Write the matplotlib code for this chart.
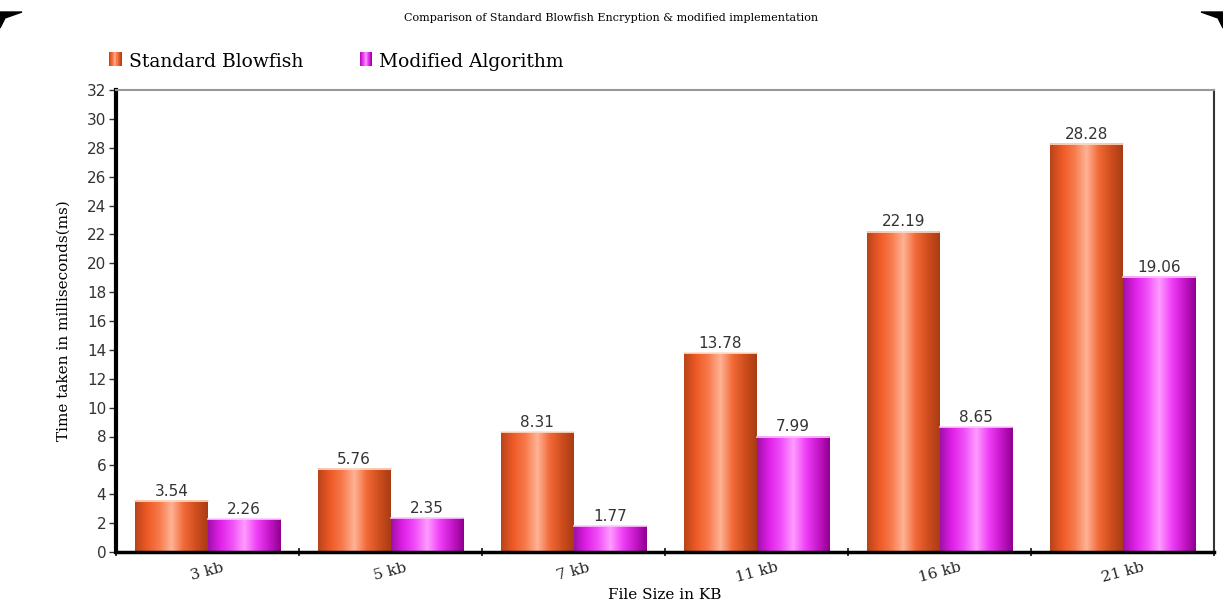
import numpy as np
import matplotlib.pyplot as plt
from matplotlib.colors import LinearSegmentedColormap
from matplotlib.legend_handler import HandlerBase
from matplotlib.patches import Rectangle, Polygon

# encryption timings (ms) per file size
sizes = ['3 kb', '5 kb', '7 kb', '11 kb', '16 kb', '21 kb']
standard = [3.54, 5.76, 8.31, 13.78, 22.19, 28.28]
modified = [2.26, 2.35, 1.77, 7.99, 8.65, 19.06]
yticks = list(range(0, 33, 2))

# cylinder style shading across each bar
cm_std = LinearSegmentedColormap.from_list('std', ['#b8441a', '#ee5a26', '#f77a4c', '#ffb296', '#f26a38', '#d04e1e', '#a83c14'])
cm_mod = LinearSegmentedColormap.from_list('mod', ['#a010a8', '#e020e8', '#f050f8', '#ff9cff', '#f040f8', '#c818cc', '#900090'])
grad = np.linspace(0, 1, 256).reshape(1, -1)

serif = 'DejaVu Serif'
sans = 'DejaVu Sans'


class GradHandler(HandlerBase):
    def __init__(self, cmap):
        super().__init__()
        self.cmap = cmap

    def create_artists(self, legend, orig, xd, yd, width, height, fontsize, trans):
        n = 12
        arts = []
        for i in range(n):
            r = Rectangle((xd + width * i / n, yd), width / n + 0.2, height,
                          facecolor=self.cmap((i + 0.5) / n), edgecolor='none', transform=trans)
            arts.append(r)
        return arts


fig = plt.figure(figsize=(12.23, 6.03), dpi=100)
ax = fig.add_axes([116 / 1223, 51 / 603, 1098 / 1223, 462 / 603])

x = np.arange(len(sizes)) + 0.5
w = 0.396

for vals, off, cmap in [(standard, -w / 2, cm_std), (modified, w / 2, cm_mod)]:
    bars = ax.bar(x + off, vals, w, color='none', edgecolor='none')
    for b, v in zip(bars, vals):
        x0 = b.get_x()
        ax.imshow(grad, extent=[x0, x0 + w, 0, v], aspect='auto', cmap=cmap, zorder=2, interpolation='bilinear')
        ax.plot([x0, x0 + w], [v, v], color='#ffe0c8' if cmap is cm_std else '#ffc8ff', lw=1.2, zorder=3)
        ax.text(x0 + w / 2, v + 0.15, '%.2f' % v, ha='center', va='bottom', fontsize=11,
                family=sans, color='#333333', zorder=4)

ax.set_xlim(0, len(sizes))
ax.set_ylim(0, 32)

ax.set_yticks(yticks)
ax.set_yticklabels([str(t) for t in yticks], family=sans, fontsize=11, color='#333333')
ax.tick_params(axis='y', length=5, width=1, color='#333333', pad=2)

ax.set_xticks(np.arange(len(sizes) + 1))
ax.set_xticklabels([])
ax.tick_params(axis='x', which='major', length=6, width=1.2, color='#111111', direction='inout')
ax.set_xticks(x, minor=True)
ax.set_xticklabels(sizes, minor=True, rotation=15, family=serif, fontsize=11, color='#222222')
ax.tick_params(axis='x', which='minor', length=0, pad=6)

ax.spines['left'].set_linewidth(3)
ax.spines['left'].set_color('black')
ax.spines['bottom'].set_linewidth(2.5)
ax.spines['bottom'].set_color('black')
ax.spines['top'].set_color('#999999')
ax.spines['top'].set_linewidth(1.5)
ax.spines['right'].set_color('#333333')
ax.spines['right'].set_linewidth(1.5)

ax.set_xlabel('File Size in KB', family=serif, fontsize=11, labelpad=2, x=0.5)
ax.set_ylabel('Time taken in milliseconds(ms)', family=serif, fontsize=11, labelpad=12)

fig.text(0.5, 1 - 18 / 603, 'Comparison of Standard Blowfish Encryption & modified implementation',
         ha='center', va='center', family=serif, fontsize=8)

handles = [Rectangle((0, 0), 1, 1), Rectangle((0, 0), 1, 1)]
fig.legend(handles, ['Standard Blowfish', 'Modified Algorithm'],
           handler_map={handles[0]: GradHandler(cm_std), handles[1]: GradHandler(cm_mod)},
           loc='center left', bbox_to_anchor=(100 / 1223, 1 - 62 / 603), ncol=2, frameon=False,
           prop={'family': serif, 'size': 13.5}, handlelength=0.65, handleheight=0.8,
           handletextpad=0.4, columnspacing=3.0, borderpad=0)

# dark frame corners at the top
fig.patches.append(Polygon([[0, 1 - 12 / 603], [22 / 1223, 1 - 12 / 603], [5 / 1223, 1 - 18 / 603], [0, 1 - 28 / 603]],
                           closed=True, transform=fig.transFigure, color='black'))
fig.patches.append(Polygon([[1, 1 - 12 / 603], [1 - 22 / 1223, 1 - 12 / 603], [1 - 5 / 1223, 1 - 18 / 603], [1, 1 - 28 / 603]],
                           closed=True, transform=fig.transFigure, color='black'))

fig.savefig('out.png', dpi=100)
